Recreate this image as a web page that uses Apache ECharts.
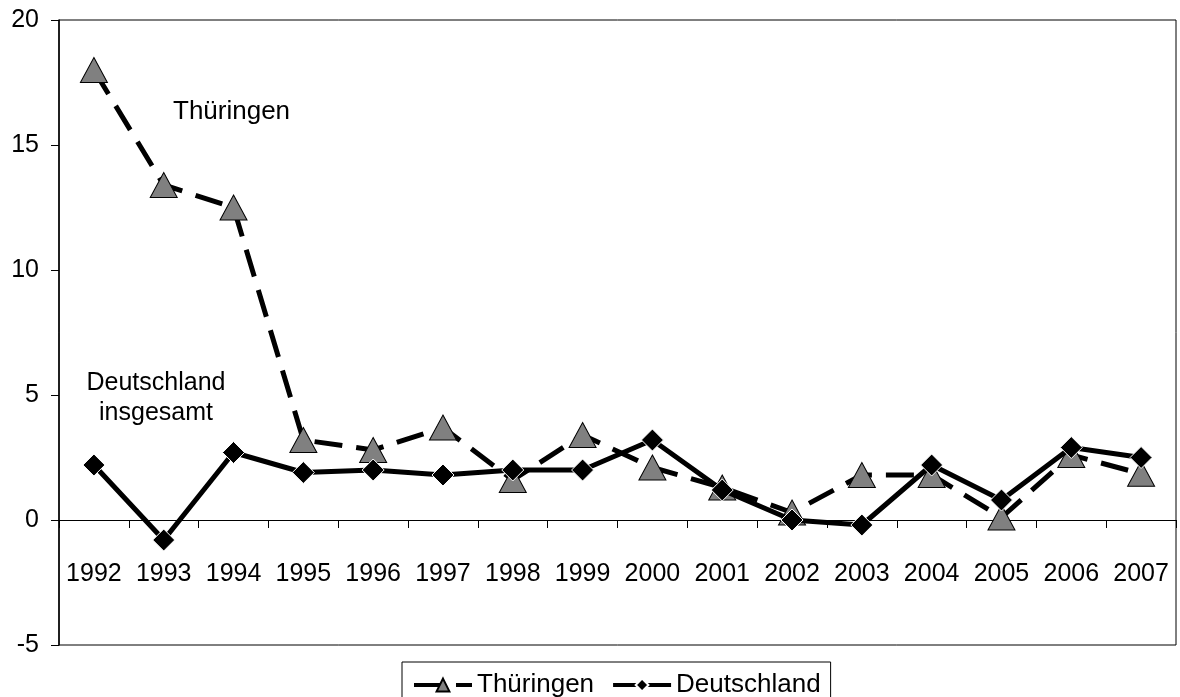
<!DOCTYPE html>
<html>
<head>
<meta charset="utf-8">
<script src="https://cdn.jsdelivr.net/npm/echarts@6/dist/echarts.min.js"></script>
<style>
  html, body { margin: 0; padding: 0; background: #fff; }
  #chart { width: 1180px; height: 697px; }
</style>
</head>
<body>
<div id="chart"></div>
<script>
  var years = ["1992", "1993", "1994", "1995", "1996", "1997", "1998", "1999",
               "2000", "2001", "2002", "2003", "2004", "2005", "2006", "2007"];
  var thueringen = [18, 13.4, 12.5, 3.2, 2.8, 3.7, 1.6, 3.4, 2.1, 1.3, 0.3, 1.8, 1.8, 0.1, 2.6, 1.85];
  var deutschland = [2.2, -0.8, 2.7, 1.9, 2.0, 1.8, 2.0, 2.0, 3.2, 1.2, 0.0, -0.2, 2.2, 0.8, 2.9, 2.5];
  var yTicks = { min: -5, max: 20, interval: 5 };

  var font = "Liberation Sans, Arial, sans-serif";
  var chart = echarts.init(document.getElementById("chart"));

  var option = {
    animation: false,
    textStyle: { fontFamily: font, color: "#000" },
    grid: {
      left: 59, right: 4, top: 20, bottom: 52,
      outerBoundsMode: "none",
      show: true, borderColor: "#000", borderWidth: 1
    },
    legend: {
      top: 662,
      left: 402,
      itemWidth: 58,
      itemHeight: 16,
      itemGap: 17,
      padding: [10, 10, 10, 10],
      borderColor: "#000",
      borderWidth: 1,
      textStyle: { fontSize: 26, color: "#000", fontFamily: font },
      data: [
        { name: "Thüringen", lineStyle: { width: 4, type: [28, 14] } },
        { name: "Deutschland", lineStyle: { width: 4, type: "solid" } }
      ]
    },
    graphic: [
      { type: "text", left: 173, top: 99,
        style: { text: "Thüringen", fontSize: 26, fontFamily: font, fill: "#000" } },
      { type: "text", x: 156, y: 368,
        style: { text: "Deutschland\ninsgesamt", fontSize: 25, lineHeight: 30, align: "center",
                 fontFamily: font, fill: "#000" } }
    ],
    xAxis: {
      type: "category",
      data: years,
      boundaryGap: true,
      axisLine: { onZero: true, lineStyle: { color: "#000", width: 1 } },
      axisTick: { show: true, length: 8, inside: false, lineStyle: { color: "#000" } },
      axisLabel: { interval: 0, hideOverlap: false, margin: -83, fontSize: 25, color: "#000", fontFamily: font },
      splitLine: { show: false }
    },
    yAxis: {
      type: "value",
      min: yTicks.min,
      max: yTicks.max,
      interval: yTicks.interval,
      axisLine: { show: true, lineStyle: { color: "#000", width: 1.5 } },
      axisTick: { show: true, length: 8, lineStyle: { color: "#000" } },
      axisLabel: { margin: 20, fontSize: 25, color: "#000", fontFamily: font },
      splitLine: { show: false }
    },
    series: [
      {
        name: "Thüringen",
        type: "line",
        data: thueringen,
        symbol: "triangle",
        symbolSize: [27, 25],
        z: 2,
        lineStyle: { color: "#000", width: 5, type: [28, 14] },
        itemStyle: { color: "#808080", borderColor: "#000", borderWidth: 1 }
      },
      {
        name: "Deutschland",
        type: "line",
        data: deutschland,
        symbol: "diamond",
        symbolSize: [22, 22],
        z: 3,
        lineStyle: { color: "#000", width: 5, type: "solid" },
        itemStyle: { color: "#000", borderColor: "#fff", borderWidth: 1 }
      }
    ]
  };

  chart.setOption(option);
</script>
</body>
</html>
